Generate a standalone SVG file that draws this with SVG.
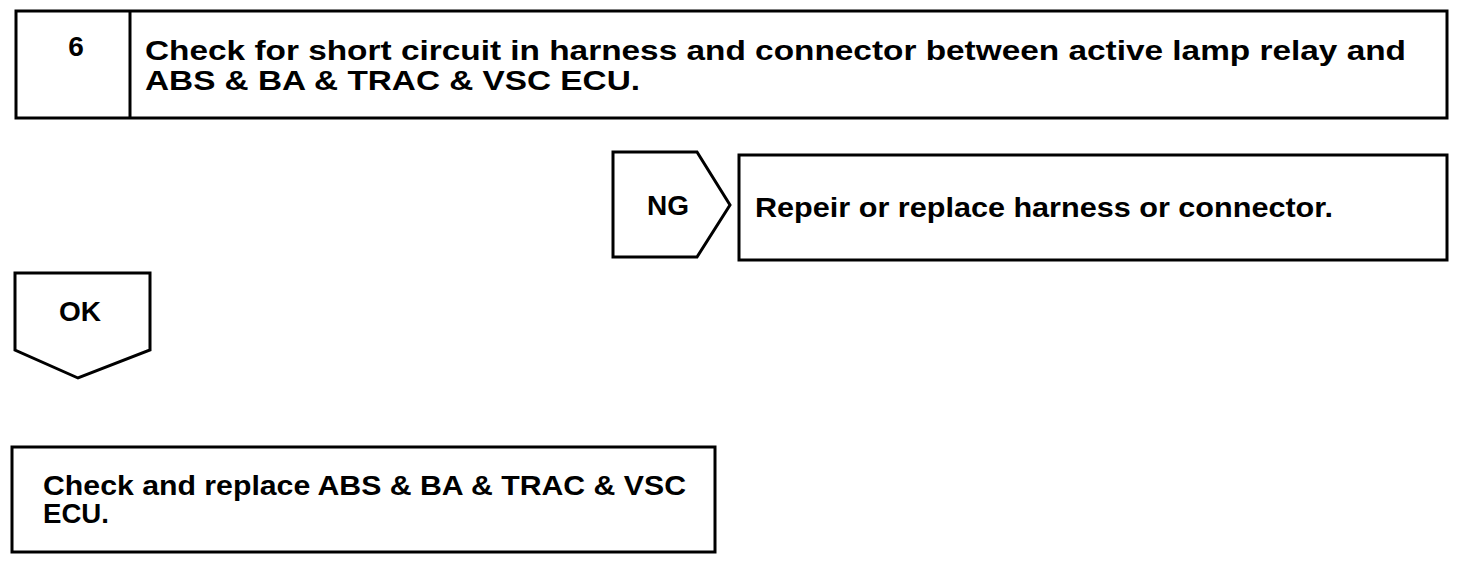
<svg xmlns="http://www.w3.org/2000/svg" width="1472" height="568" viewBox="0 0 1472 568">
<style>
.b{fill:#fff;stroke:#000;stroke-width:3}
.t{font-family:"Liberation Sans",Arial,sans-serif;font-weight:bold;font-size:28px;fill:#000}
</style>
<rect width="1472" height="568" fill="#fff"/>
<g id="step6">
<rect class="b" x="16" y="11" width="1431" height="107"/>
<line x1="130" y1="11" x2="130" y2="118" stroke="#000" stroke-width="3"/>
<text class="t" x="76" y="56" text-anchor="middle">6</text>
<text class="t" x="145" y="60" textLength="1261" lengthAdjust="spacingAndGlyphs">Check for short circuit in harness and connector between active lamp relay and</text>
<text class="t" x="145" y="90" textLength="495" lengthAdjust="spacingAndGlyphs">ABS &amp; BA &amp; TRAC &amp; VSC ECU.</text>
</g>
<g id="ng">
<polygon class="b" points="613,152 697,152 730,205 697,257 613,257"/>
<text class="t" x="668" y="215" text-anchor="middle">NG</text>
</g>
<g id="repair">
<rect class="b" x="739" y="155" width="708" height="105"/>
<text class="t" x="755" y="217" textLength="578" lengthAdjust="spacingAndGlyphs">Repeir or replace harness or connector.</text>
</g>
<g id="ok">
<polygon class="b" points="15,273 150,273 150,350 78,378 15,350"/>
<text class="t" x="80" y="321" text-anchor="middle">OK</text>
</g>
<g id="replace">
<rect class="b" x="12" y="447" width="703" height="105"/>
<text class="t" x="43" y="495" textLength="643" lengthAdjust="spacingAndGlyphs">Check and replace ABS &amp; BA &amp; TRAC &amp; VSC</text>
<text class="t" x="43" y="523" textLength="66" lengthAdjust="spacingAndGlyphs">ECU.</text>
</g>
<g id="connectors"></g>
</svg>
